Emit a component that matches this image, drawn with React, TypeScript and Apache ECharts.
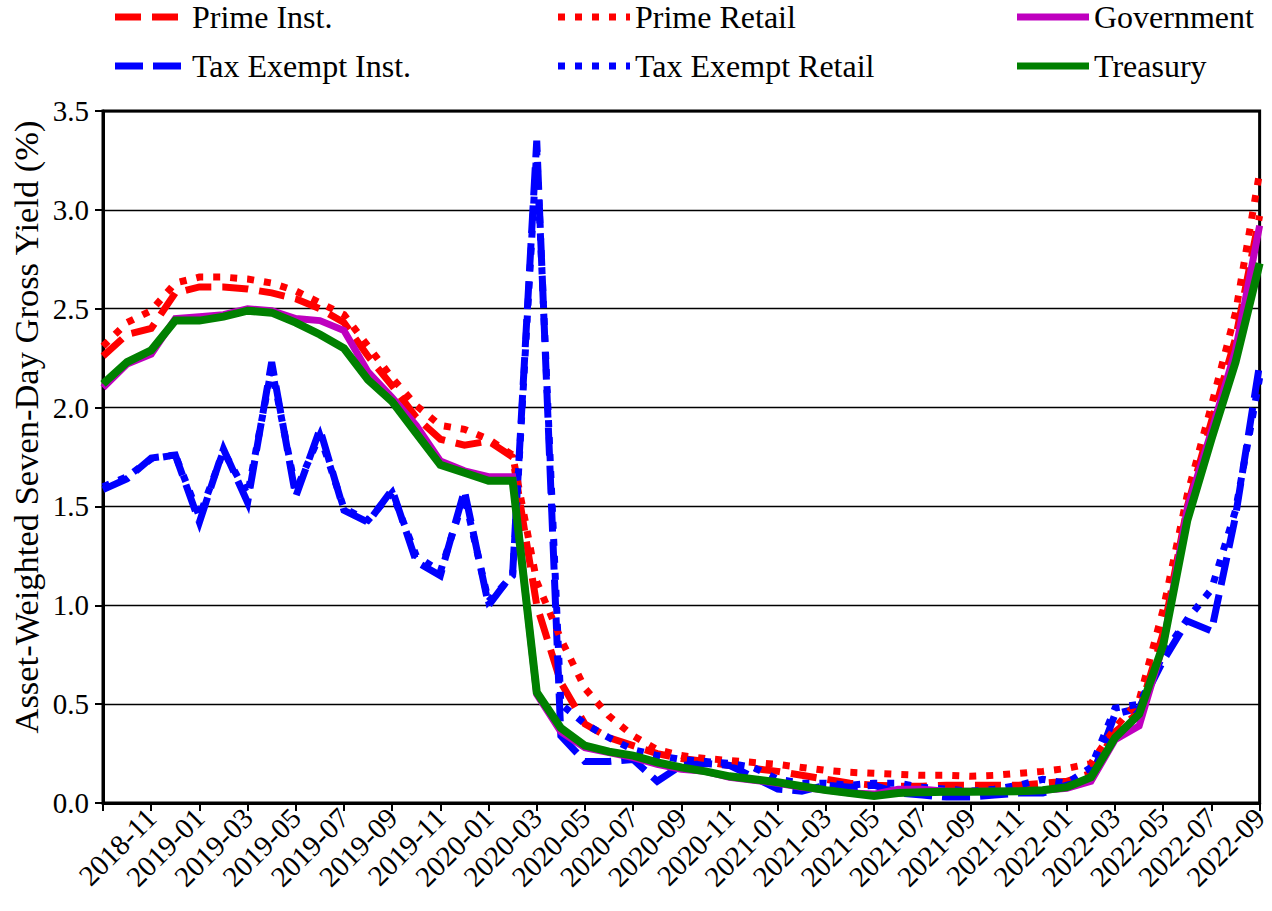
import React, { useEffect, useRef } from "react";
import * as echarts from "echarts";

const months = [
  "2018-09", "2018-10", "2018-11", "2018-12",
  "2019-01", "2019-02", "2019-03", "2019-04", "2019-05", "2019-06", "2019-07", "2019-08", "2019-09", "2019-10", "2019-11", "2019-12",
  "2020-01", "2020-02", "2020-03", "2020-04", "2020-05", "2020-06", "2020-07", "2020-08", "2020-09", "2020-10", "2020-11", "2020-12",
  "2021-01", "2021-02", "2021-03", "2021-04", "2021-05", "2021-06", "2021-07", "2021-08", "2021-09", "2021-10", "2021-11", "2021-12",
  "2022-01", "2022-02", "2022-03", "2022-04", "2022-05", "2022-06", "2022-07", "2022-08", "2022-09",
];

const primeInst = [
  2.26, 2.37, 2.40, 2.58, 2.61, 2.61, 2.60, 2.58, 2.55, 2.50, 2.43, 2.26, 2.11, 1.95, 1.84, 1.81,
  1.83, 1.75, 1.00, 0.61, 0.40, 0.33, 0.29, 0.25, 0.225, 0.21, 0.19, 0.175, 0.16, 0.14, 0.12, 0.10,
  0.09, 0.085, 0.085, 0.09, 0.09, 0.09, 0.09, 0.10, 0.11, 0.15, 0.36, 0.46, 0.86, 1.50, 1.93, 2.35, 2.97,
];
const primeRetail = [
  2.31, 2.43, 2.49, 2.63, 2.66, 2.66, 2.65, 2.63, 2.59, 2.53, 2.47, 2.31, 2.15, 2.01, 1.91, 1.89,
  1.84, 1.76, 1.12, 0.83, 0.58, 0.44, 0.34, 0.27, 0.24, 0.225, 0.215, 0.205, 0.195, 0.18, 0.165, 0.155,
  0.15, 0.145, 0.14, 0.14, 0.135, 0.14, 0.15, 0.16, 0.175, 0.20, 0.38, 0.52, 0.98, 1.56, 2.01, 2.48, 3.19,
];
const government = [
  2.10, 2.22, 2.27, 2.45, 2.46, 2.47, 2.50, 2.49, 2.45, 2.44, 2.39, 2.18, 2.05, 1.91, 1.73, 1.68,
  1.65, 1.65, 0.55, 0.36, 0.28, 0.255, 0.23, 0.195, 0.17, 0.16, 0.13, 0.115, 0.10, 0.08, 0.065, 0.05,
  0.045, 0.07, 0.07, 0.06, 0.06, 0.06, 0.06, 0.065, 0.075, 0.11, 0.32, 0.39, 0.80, 1.49, 1.88, 2.29, 2.92,
];
const taxExemptInst = [
  1.585, 1.64, 1.745, 1.76, 1.42, 1.79, 1.52, 2.23, 1.55, 1.89, 1.48, 1.42, 1.585, 1.22, 1.15, 1.58,
  1.0, 1.16, 3.35, 0.34, 0.21, 0.21, 0.22, 0.11, 0.19, 0.20, 0.19, 0.13, 0.07, 0.06, 0.09, 0.08,
  0.09, 0.05, 0.04, 0.03, 0.03, 0.04, 0.05, 0.05, 0.09, 0.12, 0.45, 0.48, 0.72, 0.92, 0.87, 1.45, 2.22,
];
const taxExemptRetail = [
  1.60, 1.65, 1.74, 1.76, 1.45, 1.78, 1.56, 2.20, 1.58, 1.86, 1.49, 1.43, 1.57, 1.25, 1.17, 1.55,
  1.02, 1.15, 3.30, 0.50, 0.40, 0.33, 0.27, 0.24, 0.22, 0.21, 0.20, 0.18, 0.12, 0.10, 0.10, 0.09,
  0.10, 0.10, 0.08, 0.07, 0.06, 0.07, 0.09, 0.12, 0.10, 0.18, 0.48, 0.50, 0.75, 0.93, 1.08, 1.48, 2.15,
];
const treasury = [
  2.12, 2.23, 2.29, 2.44, 2.44, 2.46, 2.49, 2.48, 2.43, 2.37, 2.30, 2.14, 2.03, 1.87, 1.71, 1.67,
  1.63, 1.63, 0.56, 0.38, 0.29, 0.26, 0.24, 0.205, 0.18, 0.16, 0.135, 0.12, 0.105, 0.085, 0.065, 0.05,
  0.035, 0.05, 0.055, 0.057, 0.057, 0.058, 0.06, 0.065, 0.08, 0.13, 0.33, 0.45, 0.80, 1.43, 1.84, 2.23, 2.73,
];

const yTicks = [0, 0.5, 1.0, 1.5, 2.0, 2.5, 3.0, 3.5];

const FONT = "'Liberation Serif', 'Times New Roman', serif";
const RED = "#ff0000";
const BLUE = "#0000ff";
const MAGENTA = "#bf00bf";
const GREEN = "#008000";
const DASH = [26, 11];
const DOT = [7, 10];

type Spec = { name: string; data: number[]; color: string; dash: number[] | "solid"; width: number; col: number; row: number };

const specs: Spec[] = [
  { name: "Prime Inst.", data: primeInst, color: RED, dash: DASH, width: 7, col: 0, row: 0 },
  { name: "Tax Exempt Inst.", data: taxExemptInst, color: BLUE, dash: [28, 10], width: 7, col: 0, row: 1 },
  { name: "Prime Retail", data: primeRetail, color: RED, dash: DOT, width: 7, col: 1, row: 0 },
  { name: "Tax Exempt Retail", data: taxExemptRetail, color: BLUE, dash: DOT, width: 7, col: 1, row: 1 },
  { name: "Government", data: government, color: MAGENTA, dash: "solid", width: 7, col: 2, row: 0 },
  { name: "Treasury", data: treasury, color: GREEN, dash: "solid", width: 8, col: 2, row: 1 },
];

const legendCols = [115, 558, 1017];
const legendRows = [17, 66];

export default function App() {
  const ref = useRef<HTMLDivElement>(null);
  useEffect(() => {
    if (!ref.current) return;
    const chart = echarts.init(ref.current, undefined, { renderer: "svg" });
    const showIdx = (i: number) => i > 0 && i % 2 === 0;
    const graphics: any[] = [];
    specs.forEach((s) => {
      const x = legendCols[s.col];
      const y = legendRows[s.row];
      graphics.push({
        type: "line",
        shape: { x1: x, y1: y, x2: x + 72, y2: y },
        style: {
          stroke: s.color,
          lineWidth: 7,
          lineDash: s.dash === "solid" ? null : s.dash,
          lineCap: "butt",
        },
      });
      graphics.push({
        type: "text",
        x: x + 77,
        y: y,
        style: {
          text: s.name,
          font: `32px ${FONT}`,
          fill: "#000",
          textAlign: "left",
          textVerticalAlign: "middle",
        },
      });
    });
    graphics.push({
      type: "text",
      x: 26,
      y: 427,
      rotation: Math.PI / 2,
      style: {
        text: "Asset-Weighted Seven-Day Gross Yield (%)",
        font: `34.5px ${FONT}`,
        fill: "#000",
        textAlign: "center",
        textVerticalAlign: "middle",
      },
    });

    chart.setOption({
      animation: false,
      backgroundColor: "#fff",
      grid: {
        left: 103,
        right: 4,
        top: 111,
        bottom: 108,
        show: true,
        borderColor: "#000",
        borderWidth: 3,
        containLabel: false,
      },
      xAxis: {
        type: "category",
        data: months,
        boundaryGap: false,
        axisLine: { show: true, lineStyle: { color: "#000", width: 3 } },
        axisTick: {
          show: true,
          interval: (i: number) => i % 2 === 0,
          length: 8,
          lineStyle: { color: "#000", width: 2 },
        },
        axisLabel: {
          interval: showIdx,
          rotate: 45,
          margin: 10,
          color: "#000",
          fontFamily: FONT,
          fontSize: 29,
        },
        splitLine: { show: false },
      },
      yAxis: {
        type: "value",
        min: 0,
        max: 3.5,
        interval: 0.5,
        axisLine: { show: true, lineStyle: { color: "#000", width: 3 } },
        axisTick: { show: true, length: 8, lineStyle: { color: "#000", width: 2 } },
        axisLabel: {
          color: "#000",
          fontFamily: FONT,
          fontSize: 29,
          margin: 14,
          formatter: (v: number) => (yTicks.includes(v) ? v.toFixed(1) : ""),
        },
        splitLine: { show: true, lineStyle: { color: "#000", width: 1.3 } },
      },
      series: specs.map((s) => ({
        name: s.name,
        type: "line",
        data: s.data,
        symbol: "none",
        showSymbol: false,
        smooth: false,
        lineStyle: {
          color: s.color,
          width: s.width,
          type: s.dash === "solid" ? "solid" : s.dash,
          cap: "butt",
          join: "miter",
        },
        itemStyle: { color: s.color },
      })),
      graphic: graphics,
    });
    return () => chart.dispose();
  }, []);
  return (
    <div
      ref={ref}
      style={{ position: "fixed", left: 0, top: 0, width: 1272, height: 911, background: "#fff" }}
    />
  );
}
